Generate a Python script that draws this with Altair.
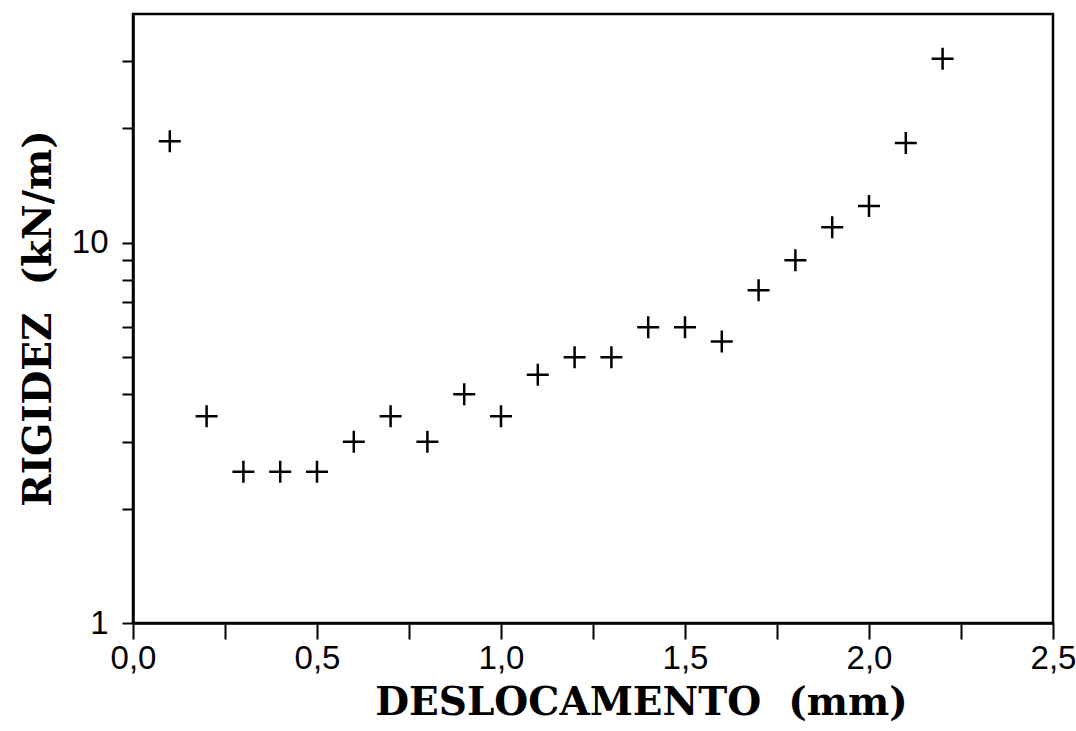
import altair as alt
import pandas as pd

deslocamento = [0.1, 0.2, 0.3, 0.4, 0.5, 0.6, 0.7, 0.8, 0.9, 1.0, 1.1,
                1.2, 1.3, 1.4, 1.5, 1.6, 1.7, 1.8, 1.9, 2.0, 2.1, 2.2]
rigidez = [18.5, 3.5, 2.5, 2.5, 2.5, 3.0, 3.5, 3.0, 4.0, 3.5, 4.5,
           5.0, 5.0, 6.0, 6.0, 5.5, 7.5, 9.0, 11.0, 12.5, 18.3, 30.5]

x_ticks = [0, 0.25, 0.5, 0.75, 1.0, 1.25, 1.5, 1.75, 2.0, 2.25, 2.5]
y_ticks = [1, 2, 3, 4, 5, 6, 7, 8, 9, 10, 20, 30]

df = pd.DataFrame({"x": deslocamento, "y": rigidez})

plus = "M-1,0L1,0M0,-1L0,1"

chart = alt.Chart(df).mark_point(
    shape=plus, filled=False, stroke="black", strokeWidth=2.5, size=484, opacity=1
).encode(
    x=alt.X("x:Q", scale=alt.Scale(domain=[0, 2.5], nice=False, zero=False),
            axis=alt.Axis(
                values=x_ticks,
                title="DESLOCAMENTO\u00a0\u00a0(mm)",
                labelExpr="(round(datum.value*100) % 50 == 0) ? replace(format(datum.value, '.1f'), '.', ',') : ''",
                grid=False, tickSize=16, tickWidth=2, tickColor="black",
                domainColor="black", domainWidth=2.5,
                labelFont="Liberation Sans", labelFontSize=33, labelColor="black",
                labelPadding=3, labelOverlap=False, labelFlush=False,
                titleFont="DejaVu Serif", titleFontSize=39, titleFontWeight="bold",
                titleColor="black", titleX=508, titleY=91, titleBaseline="alphabetic",
                titleAlign="center",
            )),
    y=alt.Y("y:Q", scale=alt.Scale(type="log", domain=[1, 40], nice=False),
            axis=alt.Axis(
                values=y_ticks,
                title="RIGIDEZ\u00a0\u00a0(kN/m)",
                labelExpr="(datum.value == 1 || datum.value == 10) ? datum.value : ''",
                grid=False, tickSize=11, tickWidth=2, tickColor="black",
                domainColor="black", domainWidth=2.5,
                labelFont="Liberation Sans", labelFontSize=33, labelColor="black",
                labelPadding=14, labelOverlap=False, labelFlush=False,
                titleFont="DejaVu Serif", titleFontSize=39, titleFontWeight="bold",
                titleColor="black", titleX=-83, titleY=304, titleBaseline="alphabetic",
                titleAngle=-90, titleAlign="center",
            )),
).properties(
    width=920, height=609,
    autosize=alt.AutoSizeParams(type="none"),
    padding={"left": 133, "top": 14, "right": 23, "bottom": 108},
).configure(
    background="white"
).configure_view(
    stroke="black", strokeWidth=2.5
)

chart.save("out.html", embed_options={"renderer": "svg", "actions": False})
